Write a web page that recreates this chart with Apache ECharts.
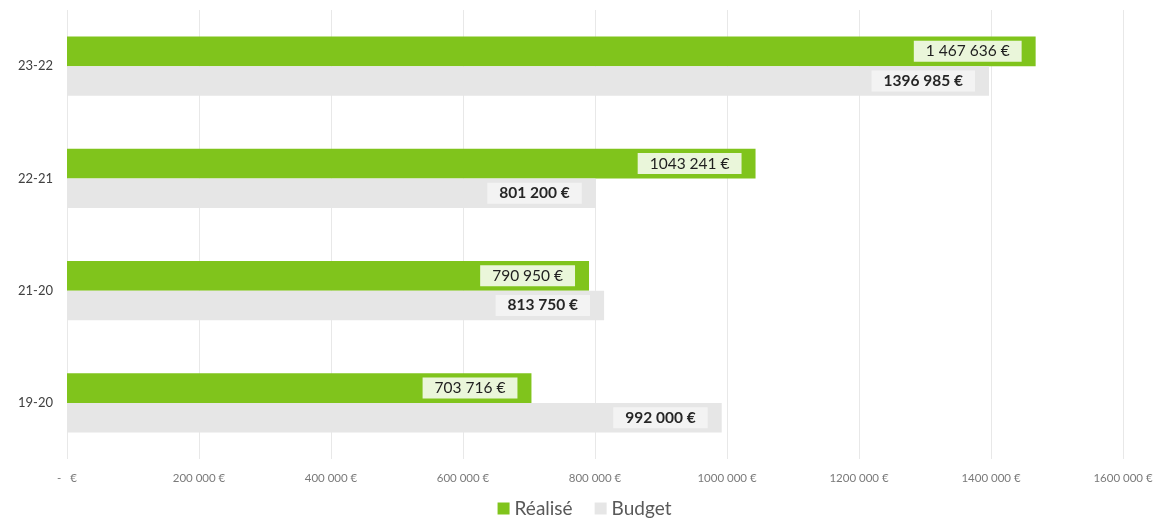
<!DOCTYPE html>
<html>
<head>
<meta charset="utf-8">
<script src="https://cdn.jsdelivr.net/npm/echarts@6/dist/echarts.min.js"></script>
<style>
  html, body { margin: 0; padding: 0; background: #ffffff; }
  #chart { width: 1169px; height: 524px; }
</style>
</head>
<body>
<div id="chart"></div>
<script>
// Seasons, bottom to top on the category axis
const categories = ['19-20', '21-20', '22-21', '23-22'];
// Actual amounts (€)
const realise = [703716, 790950, 1043241, 1467636];
const realiseLabels = ['703 716 €', '790 950 €', '1043 241 €', '1 467 636 €'];
// Budgeted amounts (€)
const budget = [992000, 813750, 801200, 1396985];
const budgetLabels = ['992 000 €', '813 750 €', '801 200 €', '1396 985 €'];
// Value-axis tick values (€)
const xTicks = [0, 200000, 400000, 600000, 800000, 1000000, 1200000, 1400000, 1600000];

const FONT = 'Lato, "Open Sans", sans-serif';

// Axis labels: "-  €" for zero, "1000 000 €" for millions
function fmtTick(v) {
  if (v === 0) return '-   €';
  const s = String(v);
  return s.slice(0, s.length - 3) + ' ' + s.slice(-3) + ' €';
}

const chart = echarts.init(document.getElementById('chart'), null, { renderer: 'canvas' });

chart.setOption({
  backgroundColor: '#ffffff',
  animation: false,
  textStyle: { fontFamily: FONT },
  grid: { left: 67, right: 46, top: 10, bottom: 65, containLabel: false },
  legend: {
    data: ['Réalisé', 'Budget'],
    bottom: 1,
    left: 'center',
    itemWidth: 12,
    itemHeight: 12,
    itemGap: 22,
    icon: 'rect',
    textStyle: { fontSize: 19, color: '#595959', fontFamily: FONT }
  },
  xAxis: {
    type: 'value',
    min: xTicks[0],
    max: xTicks[xTicks.length - 1],
    interval: xTicks[1] - xTicks[0],
    axisLine: { show: false },
    axisTick: { show: false },
    splitLine: { show: true, lineStyle: { color: '#e8e8e8', width: 1 } },
    axisLabel: {
      formatter: fmtTick,
      color: '#7a7a7a',
      fontSize: 11.5,
      margin: 13,
      fontFamily: FONT
    }
  },
  yAxis: {
    type: 'category',
    data: categories,
    axisLine: { show: false },
    axisTick: { show: false },
    splitLine: { show: false },
    axisLabel: { color: '#404040', fontSize: 13, margin: 14, fontFamily: FONT }
  },
  series: [
    {
      name: 'Réalisé',
      type: 'bar',
      data: realise,
      barGap: '0%',
      barCategoryGap: '47%',
      itemStyle: { color: '#80c41c' },
      label: {
        show: true,
        position: 'insideRight',
        distance: 14,
        formatter: p => realiseLabels[p.dataIndex],
        color: '#1f1f1f',
        fontSize: 15.5,
        fontFamily: FONT,
        backgroundColor: '#eaf6da',
        padding: [3, 12, 2, 12]
      }
    },
    {
      name: 'Budget',
      type: 'bar',
      data: budget,
      barGap: '0%',
      barCategoryGap: '47%',
      itemStyle: { color: '#e6e6e6' },
      label: {
        show: true,
        position: 'insideRight',
        distance: 14,
        formatter: p => budgetLabels[p.dataIndex],
        color: '#262626',
        fontSize: 15.5,
        fontWeight: 'bold',
        fontFamily: FONT,
        backgroundColor: '#f3f3f3',
        padding: [3, 12, 2, 12]
      }
    }
  ]
});
</script>
</body>
</html>
